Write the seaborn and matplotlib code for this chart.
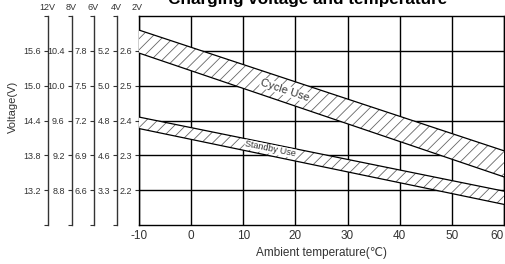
import matplotlib
matplotlib.use("Agg")
import matplotlib.pyplot as plt
import seaborn as sns
import pandas as pd

# Data (2V cell scale)
temps = [-10, 60]
cycle_upper = [2.660, 2.313]
cycle_lower = [2.594, 2.238]
standby_upper = [2.410, 2.197]
standby_lower = [2.377, 2.159]

cell_ticks = [2.6, 2.5, 2.4, 2.3, 2.2]
x_ticks = [-10, 0, 10, 20, 30, 40, 50, 60]

# extra voltage scales shown left of the chart
scales = {
    "12V": ["15.6", "15.0", "14.4", "13.8", "13.2"],
    "8V": ["10.4", "10.0", "9.6", "9.2", "8.8"],
    "6V": ["7.8", "7.5", "7.2", "6.9", "6.6"],
    "4V": ["5.2", "5.0", "4.8", "4.6", "3.3"],
}

df = pd.DataFrame({"temp": temps, "cu": cycle_upper, "cl": cycle_lower,
                   "su": standby_upper, "sl": standby_lower})

sns.set_theme(style="white")
plt.rcParams["font.family"] = ["Liberation Sans", "DejaVu Sans"]
plt.rcParams["axes.unicode_minus"] = False
plt.rcParams["hatch.linewidth"] = 0.6
txt = "#333333"
narrow = ["Liberation Sans Narrow", "Liberation Sans"]

fig = plt.figure(figsize=(5.05, 2.64), dpi=100)
ax = fig.add_axes([0.275, 0.148, 0.723, 0.791])

ax.set_xlim(-10, 60)
ax.set_ylim(2.1, 2.7)
ax.set_xticks(x_ticks)
ax.set_yticks(cell_ticks)
ax.set_yticklabels(["2.6", "2.5", "2.4", "2.3", "2.2"], fontfamily=narrow)
ax.grid(True, color="black", linewidth=1.0)
ax.set_axisbelow(True)
for s in ax.spines.values():
    s.set_color("black")
    s.set_linewidth(1.0)
ax.tick_params(axis="x", length=0, labelsize=8.5, colors=txt, pad=4)
ax.tick_params(axis="y", direction="out", length=3, width=0.8, labelsize=6.5,
               colors=txt, pad=2, left=True)
ax.get_xticklabels()[-1].set_horizontalalignment("right")

# bands
for up, lo in [("cu", "cl"), ("su", "sl")]:
    ax.fill_between(df["temp"], df[lo], df[up], facecolor="white",
                    edgecolor="#666666", hatch="///", linewidth=0, zorder=3)
    sns.lineplot(data=df, x="temp", y=up, color="black", linewidth=0.9, ax=ax, zorder=4)
    sns.lineplot(data=df, x="temp", y=lo, color="black", linewidth=0.9, ax=ax, zorder=4)

ax.set_xlabel("Ambient temperature(℃)", fontsize=8.5, color=txt, labelpad=3)
ax.set_ylabel("")

ax.text(18, 2.487, "Cycle Use", rotation=-18.5, rotation_mode="anchor",
        ha="center", va="center", fontsize=8, color=txt, zorder=5,
        bbox=dict(facecolor="white", edgecolor="none", pad=0.2))
ax.text(15.2, 2.318, "Standby Use", rotation=-11.5, rotation_mode="anchor",
        ha="center", va="center", fontsize=6.5, color=txt, zorder=5,
        bbox=dict(facecolor="white", edgecolor="none", pad=0.1))

# secondary scales
locs = {"12V": -0.249, "8V": -0.184, "6V": -0.123, "4V": -0.060}
for name, labels in scales.items():
    sec = ax.secondary_yaxis(locs[name])
    sec.set_yticks(cell_ticks + [2.1, 2.7])
    sec.set_yticklabels(labels + ["", ""], fontfamily=narrow)
    sec.tick_params(direction="out", length=3, width=0.8, labelsize=6.5,
                    colors=txt, pad=2)
    sec.spines["left"].set_color("#333333")
    sec.spines["left"].set_linewidth(1.0)
    x_fig = 0.275 + locs[name] * 0.723
    fig.text(x_fig - 0.002, 0.972, name, ha="center", va="center",
             fontsize=6.5, color=txt)
fig.text(0.271, 0.972, "2V", ha="center", va="center", fontsize=6.5, color=txt)

fig.text(0.026, 0.595, "Voltage(V)", rotation=90, ha="center", va="center",
         fontsize=8, color=txt)
fig.text(0.61, 0.986, "Charging voltage and temperature", ha="center",
         va="baseline", fontsize=12.3, fontweight="bold", color="black")

fig.savefig("out.png", dpi=100)
